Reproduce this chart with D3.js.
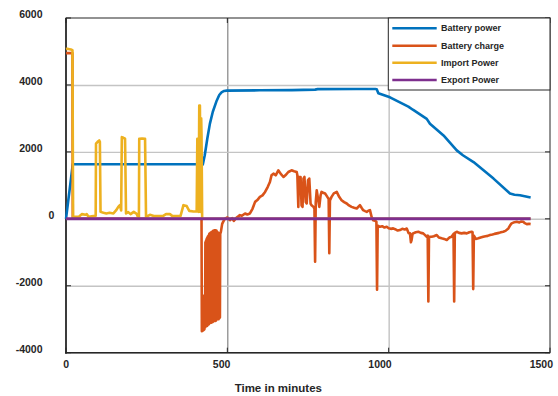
<!DOCTYPE html>
<html>
<head>
<meta charset="utf-8">
<script src="https://cdn.jsdelivr.net/npm/d3@7"></script>
<style>
  html, body { margin: 0; padding: 0; background: #fff; }
  svg { display: block; }
  text { font-family: "Liberation Sans", Arial, sans-serif; font-weight: bold; fill: #262626; }
</style>
</head>
<body>
<svg id="chart" width="558" height="396"></svg>
<script>
// series names in legend order
const seriesNames = ['Battery power', 'Battery charge', 'Import Power', 'Export Power'];
const seriesColors = ['#0072BD', '#D95319', '#EDB120', '#7E2F8E'];

const xTicks = [0, 500, 1000, 1500];
const yTicks = [-4000, -2000, 0, 2000, 4000, 6000];

// [minute, value] pairs
const batteryPower = [
  [0, 0], [21, 1630], [200, 1630], [405, 1630], [424, 1620], [430, 1900], [438, 2400],
  [446, 2845], [455, 3200], [467, 3530], [475, 3700], [482, 3780], [490, 3820], [498, 3830],
  [600, 3840], [700, 3845], [772, 3860], [780, 3875], [900, 3880], [958, 3880], [963, 3870],
  [968, 3750], [1004, 3630], [1061, 3354], [1075, 3260], [1118, 2987], [1128, 2839],
  [1170, 2490], [1211, 2045], [1230, 1900], [1263, 1696], [1325, 1202], [1376, 756],
  [1390, 720], [1407, 705], [1440, 637]
];

const batteryCharge = [
  [0, 4950], [20, 4950], [21, 0], [419, 0], [420, 0],
  [421, -3360], [422, -2300], [423, -3350], [424, -2350], [425, -3300], [426, -2300],
  [427, -3320], [428, -2320], [429, -3300], [430, -2350], [431, -3250], [432, -700],
  [433, -3220], [434, -650], [435, -3200], [436, -600], [437, -3200], [438, -560],
  [439, -3180], [440, -520], [441, -3150], [442, -500], [443, -3150], [444, -450],
  [445, -3120], [446, -430], [447, -3100], [448, -420], [449, -3100], [450, -400],
  [451, -3100], [452, -390], [453, -3090], [454, -380], [455, -3080], [456, -360],
  [457, -3060], [458, -350], [459, -3050], [460, -340], [461, -3050], [462, -340],
  [463, -3050], [464, -345], [465, -3040], [466, -350], [467, -3000], [468, -380],
  [469, -3000], [470, -400], [471, -3000], [472, -420], [473, -3000], [474, -450],
  [475, -2970], [476, -450], [477, -2950], [478, -450],
  [480, -390], [484, -150], [487, -90], [492, 0], [500, 40], [508, -40], [515, 20],
  [520, -60], [528, 30], [535, 80], [539, 110], [545, 90], [555, 160], [562, 130],
  [570, 160], [578, 300], [586, 506], [593, 560], [601, 655], [609, 700], [617, 804],
  [625, 950], [632, 1101], [637, 1300], [643, 1351], [650, 1300], [658, 1449],
  [665, 1350], [674, 1250], [680, 1300], [689, 1399], [699, 1449], [707, 1420],
  [715, 1399], [717, 1300], [720, 357], [722, 1250], [727, 1250], [730, 400],
  [733, 357], [736, 1200], [739, 1250], [743, 500], [746, 458], [750, 1150],
  [754, 1202], [758, 450], [761, 408], [767, 357], [770, 300], [772, -1280],
  [774, 500], [777, 854], [781, 600], [785, 357], [789, 700], [792, 804], [797, 780],
  [803, 756], [810, 655], [814, 600], [816, -1030], [818, 550], [823, 655], [830, 760],
  [839, 804], [847, 650], [854, 557], [862, 500], [870, 458], [877, 400], [885, 357],
  [893, 330], [901, 309], [911, 408], [916, 330], [921, 259], [927, 230], [932, 208],
  [937, 240], [942, 259], [947, 60], [952, -40], [958, -60], [962, -89], [964, -2120],
  [966, -200], [973, -238], [980, -220], [987, -260], [994, -238], [1000, -280],
  [1007, -300], [1014, -286], [1020, -310], [1028, -350], [1035, -336], [1042, -300],
  [1050, -320], [1056, -290], [1062, -430], [1066, -435], [1069, -700], [1071, -634],
  [1074, -450], [1076, -435], [1084, -400], [1092, -387], [1100, -420], [1107, -435],
  [1112, -480], [1118, -536], [1121, -500], [1123, -2470], [1125, -540], [1133, -536],
  [1140, -520], [1149, -485], [1156, -560], [1164, -583], [1172, -600], [1180, -634],
  [1188, -560], [1195, -536], [1201, -450], [1203, -2470], [1205, -420], [1211, -387],
  [1218, -420], [1226, -435], [1234, -420], [1242, -435], [1250, -400], [1257, -387],
  [1260, -400], [1262, -2100], [1264, -500], [1270, -600], [1278, -583], [1285, -560],
  [1293, -536], [1300, -520], [1307, -510], [1314, -485], [1322, -470], [1328, -450],
  [1335, -435], [1342, -420], [1348, -400], [1355, -387], [1362, -360], [1371, -286],
  [1376, -200], [1381, -137], [1390, -100], [1397, -89], [1405, -110], [1410, -80],
  [1417, -89], [1422, -130], [1428, -158], [1435, -150], [1440, -158]
];

const importPower = [
  [0, 5070], [4, 5080], [15, 5060], [20, 5040], [22, 60], [40, 60], [49, 140], [60, 120],
  [64, 140], [70, 60], [85, 80], [92, 90], [93, 2244], [98, 2300], [103, 2342], [105, 2300],
  [107, 208], [116, 179], [125, 160], [135, 179], [147, 160], [155, 250], [162, 357],
  [167, 408], [171, 250], [173, 2440], [178, 2420], [183, 2393], [186, 160], [193, 200],
  [200, 140], [210, 208], [219, 150], [222, 80], [226, 60], [227, 2393], [236, 2400],
  [245, 2393], [248, 60], [260, 120], [275, 80], [300, 80], [310, 140], [322, 140],
  [330, 80], [355, 90], [364, 408], [374, 380], [382, 238], [395, 220], [405, 220],
  [407, 2393], [409, 2200], [411, 208], [413, 3384], [415, 3384], [417, 208], [419, 3000],
  [420, 2500], [422, 0], [1440, 0]
];

const exportPower = [[0, 0], [1440, 0]];

const allSeries = [batteryPower, batteryCharge, importPower, exportPower];

const svg = d3.select('#chart');
const plotLeft = 66, plotRight = 550, plotTop = 18, plotBottom = 352.7;

const x = d3.scaleLinear().domain([0, 1500]).range([plotLeft, plotRight]);
const y = d3.scaleLinear().domain([-4000, 6000]).range([plotBottom, plotTop]);

// grid lines
svg.append('g')
  .attr('transform', `translate(0,${plotBottom})`)
  .call(d3.axisBottom(x).tickValues([500, 1000]).tickSize(-(plotBottom - plotTop)).tickFormat(''))
  .call(g => g.select('.domain').remove())
  .call(g => g.selectAll('line')
    .attr('stroke', d => d === 500 ? '#5a5a5a' : '#c2c2c2')
    .attr('stroke-width', d => d === 500 ? 0.9 : 1.4));

svg.append('g')
  .attr('transform', `translate(${plotLeft},0)`)
  .call(d3.axisLeft(y).tickValues([-2000, 0, 2000, 4000]).tickSize(-(plotRight - plotLeft)).tickFormat(''))
  .call(g => g.select('.domain').remove())
  .call(g => g.selectAll('line').attr('stroke', '#c4c4c4').attr('stroke-width', 1.4));

// frame
svg.append('rect')
  .attr('x', plotLeft).attr('y', plotTop)
  .attr('width', plotRight - plotLeft).attr('height', plotBottom - plotTop)
  .attr('fill', 'none').attr('stroke', '#262626').attr('stroke-width', 1);
svg.append('line').attr('x1', plotLeft).attr('x2', plotLeft).attr('y1', plotTop).attr('y2', plotBottom + 1)
  .attr('stroke', '#262626').attr('stroke-width', 1.6);
svg.append('line').attr('x1', plotLeft - 1).attr('x2', plotRight).attr('y1', plotBottom).attr('y2', plotBottom)
  .attr('stroke', '#262626').attr('stroke-width', 1.6);

// small inner tick marks
const tickLen = 5;
yTicks.forEach(v => {
  svg.append('line').attr('x1', plotLeft).attr('x2', plotLeft + tickLen).attr('y1', y(v)).attr('y2', y(v))
    .attr('stroke', '#262626').attr('stroke-width', 1);
  svg.append('line').attr('x1', plotRight).attr('x2', plotRight - tickLen).attr('y1', y(v)).attr('y2', y(v))
    .attr('stroke', '#262626').attr('stroke-width', 1);
});
xTicks.forEach(v => {
  svg.append('line').attr('x1', x(v)).attr('x2', x(v)).attr('y1', plotBottom).attr('y2', plotBottom - tickLen)
    .attr('stroke', '#262626').attr('stroke-width', 1);
  svg.append('line').attr('x1', x(v)).attr('x2', x(v)).attr('y1', plotTop).attr('y2', plotTop + tickLen)
    .attr('stroke', '#262626').attr('stroke-width', 1);
});

// tick labels (plain hyphen minus, as in the original)
svg.append('g')
  .attr('transform', `translate(${plotLeft},0)`)
  .call(d3.axisLeft(y).tickValues(yTicks).tickSize(0).tickPadding(23.5).tickFormat(d => String(d)))
  .call(g => g.select('.domain').remove())
  .call(g => g.selectAll('text')
    .attr('font-size', '10.5px')
    .attr('y', -4)
    .attr('x', d => d === 0 ? -11.7 : -23.5));

svg.append('g')
  .attr('transform', `translate(0,${plotBottom})`)
  .call(d3.axisBottom(x).tickValues(xTicks).tickSize(0).tickPadding(7.8).tickFormat(d => String(d)))
  .call(g => g.select('.domain').remove())
  .call(g => g.selectAll('text')
    .attr('font-size', '10.5px')
    .attr('text-anchor', 'end')
    .attr('x', 2.5));

svg.selectAll('.tick text').style('font-family', '"Liberation Sans", Arial, sans-serif')
  .style('font-weight', 'bold').attr('fill', '#262626');

// x title
svg.append('text')
  .attr('x', 278.3).attr('y', 391.5)
  .attr('text-anchor', 'middle')
  .attr('font-size', '11.5px')
  .text('Time in minutes');

// series lines
const line = d3.line().x(d => x(d[0])).y(d => y(d[1]));
svg.append('g')
  .selectAll('path')
  .data(allSeries)
  .enter().append('path')
  .attr('d', line)
  .attr('fill', 'none')
  .attr('stroke', (d, i) => seriesColors[i])
  .attr('stroke-width', (d, i) => i === 3 ? 3 : 2.6)
  .attr('stroke-linejoin', 'round');

// legend
const legend = svg.append('g');
legend.append('rect')
  .attr('x', 388.3).attr('y', plotTop)
  .attr('width', plotRight - 388.3).attr('height', 72)
  .attr('fill', '#fff').attr('stroke', '#262626').attr('stroke-width', 1);

const rowY = [28.3, 45.7, 62.7, 80];
const items = legend.selectAll('g.item')
  .data(seriesNames)
  .enter().append('g')
  .attr('class', 'item')
  .attr('transform', (d, i) => `translate(0,${rowY[i]})`);

items.append('line')
  .attr('x1', 392.3).attr('x2', 436.7)
  .attr('stroke', (d, i) => seriesColors[i])
  .attr('stroke-width', 2.6);

items.append('text')
  .attr('x', 441).attr('y', 0).attr('dy', '0.33em')
  .attr('font-size', '9px')
  .text(d => d);
</script>
</body>
</html>
